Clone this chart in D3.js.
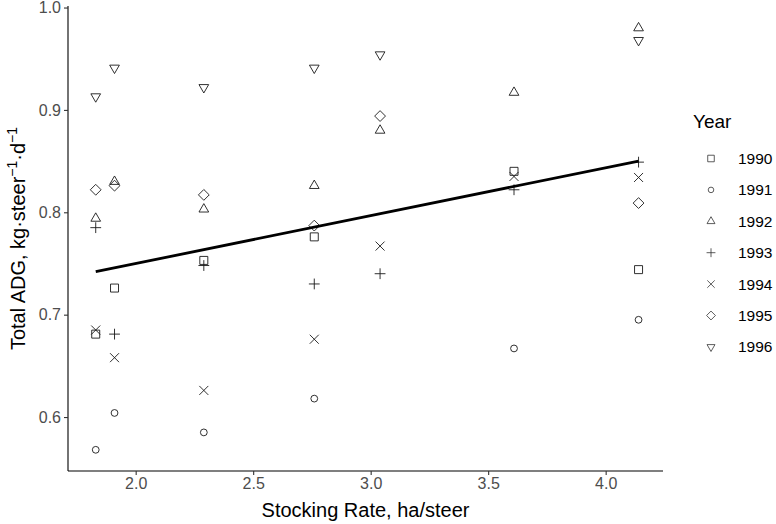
<!DOCTYPE html>
<html>
<head>
<meta charset="utf-8">
<script src="https://cdn.jsdelivr.net/npm/d3@7"></script>
<style>
  html, body { margin: 0; padding: 0; background: #fff; }
  svg { display: block; font-family: "Liberation Sans", Arial, sans-serif; }
</style>
</head>
<body>
<svg id="chart" width="776" height="524"></svg>
<script>
// ---- data ----
const stockingRates = [1.83, 1.91, 2.29, 2.76, 3.04, 3.61, 4.14];
const years = ["1990", "1991", "1992", "1993", "1994", "1995", "1996"];
const adg1990 = [0.681, 0.726, 0.753, 0.776, null, 0.840, 0.744];
const adg1991 = [0.568, 0.604, 0.585, 0.618, null, 0.667, 0.695];
const adg1992 = [0.794, 0.830, 0.803, 0.826, 0.880, 0.917, 0.980];
const adg1993 = [0.785, 0.681, 0.748, 0.730, 0.740, 0.822, 0.849];
const adg1994 = [0.685, 0.658, 0.626, 0.676, 0.767, 0.835, 0.834];
const adg1995 = [0.822, 0.826, 0.817, 0.787, 0.894, null, 0.809];
const adg1996 = [0.913, 0.941, 0.922, 0.941, 0.954, null, 0.968];
const fitX = [1.83, 4.14];
const fitY = [0.742, 0.850];
const xTicks = [2.0, 2.5, 3.0, 3.5, 4.0];
const yTicks = [0.6, 0.7, 0.8, 0.9, 1.0];
const shapes = ["square", "circle", "triUp", "plus", "cross", "diamond", "triDown"];

const seriesValues = [adg1990, adg1991, adg1992, adg1993, adg1994, adg1995, adg1996];

// ---- layout ----
const svg = d3.select("#chart");
const pLeft = 68, pRight = 663, pTop = 6, pBottom = 471;
const x = d3.scaleLinear().domain([1.712, 4.244]).range([pLeft, pRight]);
const y = d3.scaleLinear().domain([0.5473, 1.0015]).range([pBottom, pTop]);

function shapePath(shape, s) {
  const p = d3.path();
  if (shape === "square") {
    const h = 4 * s; p.rect(-h, -h, 2 * h, 2 * h);
  } else if (shape === "circle") {
    const r = 3.4 * s; p.moveTo(r, 0); p.arc(0, 0, r, 0, 2 * Math.PI);
  } else if (shape === "triUp" || shape === "triDown") {
    const r = 5.6 * s, d = shape === "triUp" ? 1 : -1;
    const w = r * Math.sqrt(3) / 2;
    p.moveTo(0, -r * d); p.lineTo(w, r / 2 * d); p.lineTo(-w, r / 2 * d); p.closePath();
  } else if (shape === "plus") {
    const h = 5.4 * s; p.moveTo(-h, 0); p.lineTo(h, 0); p.moveTo(0, -h); p.lineTo(0, h);
  } else if (shape === "cross") {
    const h = 4.5 * s; p.moveTo(-h, -h); p.lineTo(h, h); p.moveTo(-h, h); p.lineTo(h, -h);
  } else if (shape === "diamond") {
    const h = 5.4 * s; p.moveTo(0, -h); p.lineTo(h, 0); p.lineTo(0, h); p.lineTo(-h, 0); p.closePath();
  }
  return p.toString();
}

// ---- axes ----
const xAxis = d3.axisBottom(x).tickValues(xTicks).tickFormat(d3.format(".1f")).tickSize(4).tickSizeOuter(0).tickPadding(3);
const yAxis = d3.axisLeft(y).tickValues(yTicks).tickFormat(d3.format(".1f")).tickSize(4).tickSizeOuter(0).tickPadding(3);

const gx = svg.append("g").attr("transform", `translate(0,${pBottom})`).call(xAxis);
const gy = svg.append("g").attr("transform", `translate(${pLeft},0)`).call(yAxis);
gx.select(".domain").attr("d", `M${pLeft},0H${pRight}`);
gy.select(".domain").attr("d", `M0,${pTop}V${pBottom}`);
[gx, gy].forEach(g => {
  g.select(".domain").attr("stroke", "#000").attr("stroke-width", 1.1);
  g.selectAll(".tick line").attr("stroke", "#333").attr("stroke-width", 1.1);
  g.selectAll(".tick text").attr("fill", "#4D4D4D").style("font-size", "16px")
    .style("font-family", "'Liberation Sans', Arial, sans-serif");
});

// ---- points ----
seriesValues.forEach((vals, i) => {
  const pts = stockingRates.map((sr, j) => ({ sr, v: vals[j] })).filter(d => d.v != null);
  svg.append("g").selectAll("path").data(pts).join("path")
    .attr("d", shapePath(shapes[i], 1))
    .attr("transform", d => `translate(${x(d.sr)},${y(d.v)})`)
    .attr("fill", "none").attr("stroke", "#1a1a1a").attr("stroke-width", 0.9);
});

// ---- fitted line ----
svg.append("path")
  .datum(fitX.map((d, i) => [d, fitY[i]]))
  .attr("d", d3.line().x(d => x(d[0])).y(d => y(d[1])))
  .attr("fill", "none").attr("stroke", "#000").attr("stroke-width", 2.8);

// ---- axis titles ----
svg.append("text").attr("x", (pLeft + pRight) / 2).attr("y", 517)
  .attr("text-anchor", "middle").style("font-size", "20px").attr("fill", "#000")
  .text("Stocking Rate, ha/steer");

const yt = svg.append("text").attr("transform", `translate(25,${(pTop + pBottom) / 2}) rotate(-90)`)
  .attr("text-anchor", "middle").style("font-size", "20px").attr("fill", "#000");
yt.append("tspan").text("Total ADG, kg\u00B7steer");
yt.append("tspan").attr("dy", -8).style("font-size", "14px").text("\u22121");
yt.append("tspan").attr("dy", 8).text("\u00B7d");
yt.append("tspan").attr("dy", -8).style("font-size", "14px").text("\u22121");

// ---- legend ----
const lg = svg.append("g");
lg.append("text").attr("x", 693).attr("y", 128).style("font-size", "19px").attr("fill", "#000").text("Year");
years.forEach((yr, i) => {
  const cy = 158.5 + i * 31.4;
  lg.append("path").attr("d", shapePath(shapes[i], 0.82))
    .attr("transform", `translate(711,${cy})`)
    .attr("fill", "none").attr("stroke", "#333").attr("stroke-width", 0.8);
  lg.append("text").attr("x", 738).attr("y", cy).attr("dy", "0.36em")
    .style("font-size", "15.5px").attr("fill", "#000").text(yr);
});
</script>
</body>
</html>
